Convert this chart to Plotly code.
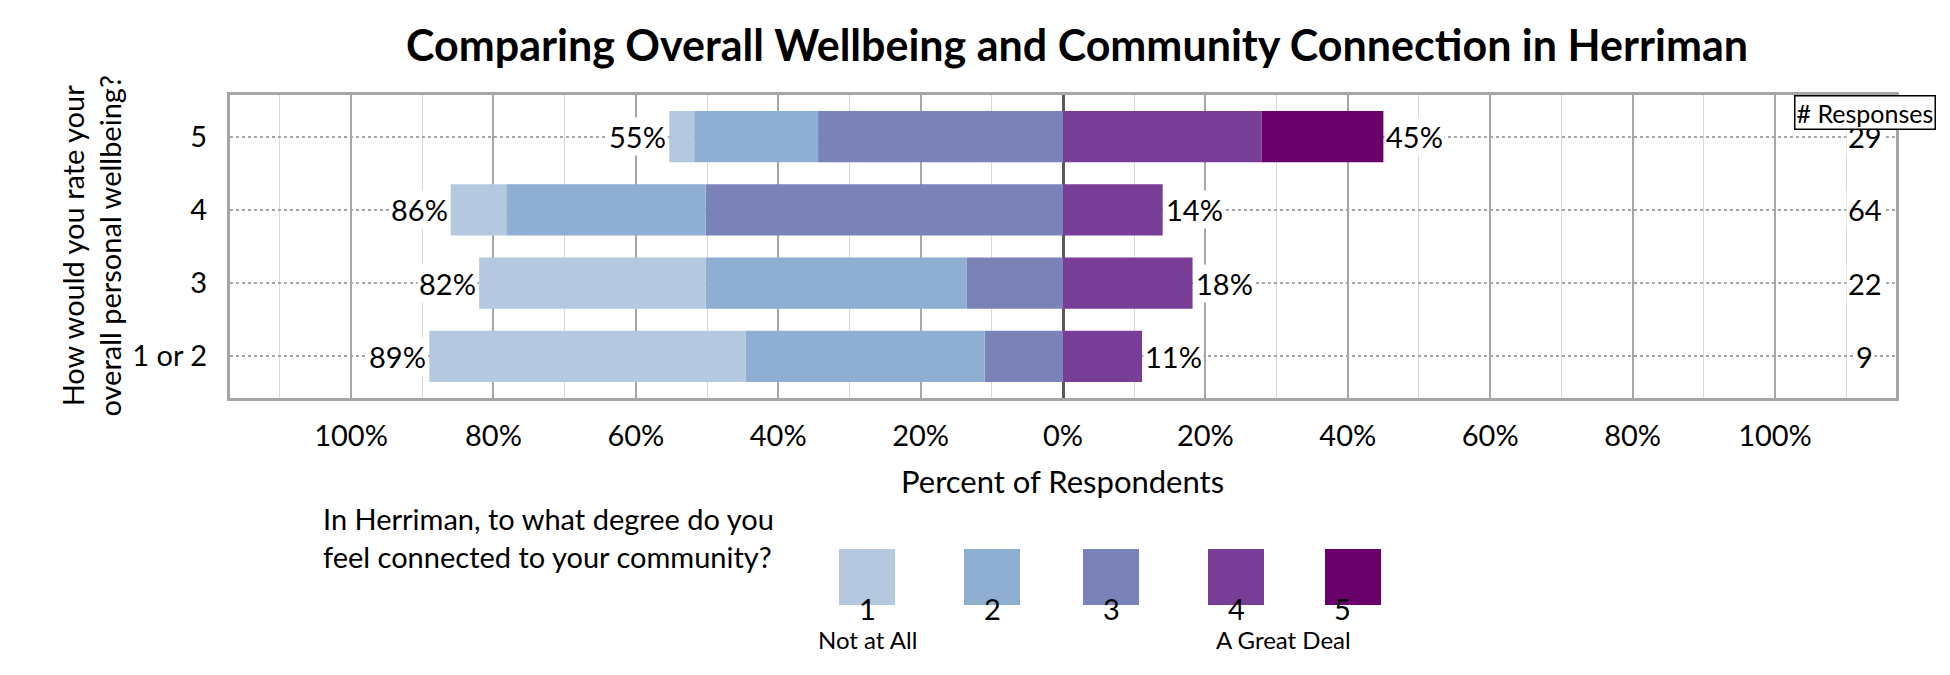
import plotly.graph_objects as go

rows = ["5", "4", "3", "1 or 2"]
neg1 = [3.5, 7.8, 31.8, 44.4]
neg2 = [17.4, 28.0, 36.7, 33.6]
neg3 = [34.4, 50.2, 13.5, 11.0]
pos4 = [27.9, 14.0, 18.2, 11.1]
pos5 = [17.1, 0.0, 0.0, 0.0]
left_labels = ["55%", "86%", "82%", "89%"]
right_labels = ["45%", "14%", "18%", "11%"]
responses = [29, 64, 22, 9]
colors = ["#b4c8e0", "#8eaed2", "#7a82b8", "#773d97", "#6a006a"]
legend_nums = ["1", "2", "3", "4", "5"]

FONT = "Lato"
L, R, T, B = 222, 1888, 87, 390


def px(x):
    return (x - L) / (R - L)


def py(y):
    return (B - y) / (B - T)


fig = go.Figure()

# negative side stacks outward from zero: 3 nearest zero, then 2, then 1
for vals, c in [(neg3, colors[2]), (neg2, colors[1]), (neg1, colors[0])]:
    fig.add_trace(go.Bar(y=rows, x=[-v for v in vals], orientation="h",
                         marker=dict(color=c, line=dict(width=0)), showlegend=False))
for vals, c in [(pos4, colors[3]), (pos5, colors[4])]:
    fig.add_trace(go.Bar(y=rows, x=vals, orientation="h",
                         marker=dict(color=c, line=dict(width=0)), showlegend=False))

for i, r in enumerate(rows):
    pos = len(rows) - 1 - i
    lt = neg1[i] + neg2[i] + neg3[i]
    rt = pos4[i] + pos5[i]
    fig.add_annotation(x=-lt, y=pos, text=left_labels[i], xanchor="right", showarrow=False,
                       font=dict(size=29, color="black"), xshift=-1, bgcolor="white")
    fig.add_annotation(x=rt, y=pos, text=right_labels[i], xanchor="left", showarrow=False,
                       font=dict(size=29, color="black"), xshift=1, bgcolor="white")
    fig.add_annotation(x=112.6, y=pos, text=str(responses[i]), showarrow=False,
                       font=dict(size=29, color="black"), bgcolor="white")

fig.add_annotation(x=112.6, y=1.0, xref="x", yref="paper", text="# Responses", showarrow=False,
                   font=dict(size=25, color="black"), bgcolor="white", bordercolor="black",
                   borderwidth=1.5, borderpad=1)

# legend boxes
lx = [859, 984, 1103, 1228, 1345]
for i, c in enumerate(colors):
    fig.add_shape(type="rect", xref="paper", yref="paper",
                  x0=px(lx[i] - 28), x1=px(lx[i] + 28),
                  y0=py(597), y1=py(541),
                  fillcolor=c, line=dict(width=0))
    fig.add_annotation(xref="paper", yref="paper", x=px(lx[i]), y=py(620), text=legend_nums[i],
                       showarrow=False, font=dict(size=29, color="black"))
fig.add_annotation(xref="paper", yref="paper", x=px(859), y=py(648), text="Not at All",
                   showarrow=False, font=dict(size=24, color="black"))
fig.add_annotation(xref="paper", yref="paper", x=px(1345), y=py(648), text="A Great Deal",
                   showarrow=False, font=dict(size=24, color="black"))
fig.add_annotation(xref="paper", yref="paper", x=px(768), y=py(568), xanchor="right",
                   align="left", showarrow=False, font=dict(size=29, color="black"),
                   text="In Herriman, to what degree do you<br>feel connected to your community?")
fig.add_annotation(xref="paper", yref="paper", x=px(1054), y=py(494),
                   text="Percent of Respondents", showarrow=False, font=dict(size=31, color="black"))
fig.add_annotation(xref="paper", yref="paper", x=px(44), y=py(238), textangle=-90,
                   text="How would you rate your<br>overall personal wellbeing?", showarrow=False,
                   font=dict(size=29, color="black"))

tickvals = [-100, -80, -60, -40, -20, 0, 20, 40, 60, 80, 100]
fig.update_layout(
    barmode="relative", bargap=0.3,
    width=1950, height=675,
    margin=dict(l=L, r=1950 - R, t=T, b=675 - B),
    plot_bgcolor="white", paper_bgcolor="white",
    font=dict(family=FONT, color="black"),
    title=dict(text="<b>Comparing Overall Wellbeing and Community Connection in Herriman</b>",
               x=1069 / 1950, xanchor="center", y=1 - 38 / 675, yanchor="middle",
               font=dict(size=43, color="black")),
    xaxis=dict(range=[-117, 117], tickvals=tickvals,
               ticktext=[f"{abs(v)}%" for v in tickvals],
               tickfont=dict(size=29), showgrid=True, gridcolor="#a6a6a6", gridwidth=2,
               minor=dict(dtick=10, tick0=0, showgrid=True, gridcolor="#d9d9d9", gridwidth=1),
               zeroline=True, zerolinecolor="#595959", zerolinewidth=3,
               showline=True, linecolor="#a6a6a6", linewidth=3, mirror=True, ticks="",
               ticklabelstandoff=10),
    yaxis=dict(categoryorder="array", categoryarray=rows[::-1], range=[-0.57, 3.57],
               tickfont=dict(size=29), showgrid=True, gridcolor="#a6a6a6", gridwidth=1.5,
               griddash="dot", showline=True, linecolor="#a6a6a6", linewidth=3, mirror=True,
               ticks="", ticklabelstandoff=14),
)

fig.write_html("out.html")
